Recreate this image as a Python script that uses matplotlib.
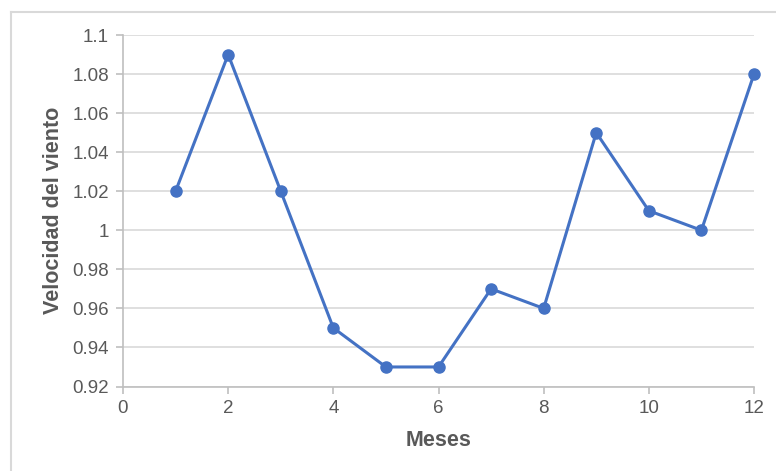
import matplotlib
matplotlib.use("Agg")
import matplotlib.pyplot as plt
from matplotlib.lines import Line2D

meses = [1, 2, 3, 4, 5, 6, 7, 8, 9, 10, 11, 12]
velocidad = [1.02, 1.09, 1.02, 0.95, 0.93, 0.93, 0.97, 0.96, 1.05, 1.01, 1.00, 1.08]
x_ticks = [0, 2, 4, 6, 8, 10, 12]
y_ticks = [0.92, 0.94, 0.96, 0.98, 1.00, 1.02, 1.04, 1.06, 1.08, 1.10]
y_tick_labels = ["0.92", "0.94", "0.96", "0.98", "1", "1.02", "1.04", "1.06", "1.08", "1.1"]

plt.rcParams["font.family"] = ["Liberation Sans", "DejaVu Sans"]
text_color = "#595959"
grid_color = "#d9d9d9"
axis_color = "#bfbfbf"
line_color = "#4472c4"

fig = plt.figure(figsize=(7.76, 4.71), dpi=100)
ax = fig.add_axes([123 / 776, 1 - 386.5 / 471, 631 / 776, 351.5 / 471])

ax.plot(meses, velocidad, color=line_color, linewidth=2.2, marker="o",
        markersize=8, markerfacecolor=line_color, markeredgecolor=line_color,
        zorder=3, clip_on=False)

ax.set_xlim(0, 12)
ax.set_ylim(0.92, 1.10)
ax.set_xticks(x_ticks)
ax.set_yticks(y_ticks)
ax.set_yticklabels(y_tick_labels)

ax.grid(axis="y", color=grid_color, linewidth=1.2)
ax.set_axisbelow(True)
for side in ("top", "right"):
    ax.spines[side].set_visible(False)
for side in ("left", "bottom"):
    ax.spines[side].set_color(axis_color)
    ax.spines[side].set_linewidth(1.2)

ax.tick_params(axis="both", colors=axis_color, labelcolor=text_color,
               labelsize=13.5, length=5, width=1.2, direction="out")
ax.tick_params(axis="y", pad=5)
ax.tick_params(axis="x", pad=5)

ax.set_xlabel("Meses", fontsize=15.5, fontweight="bold", color=text_color, labelpad=9)
ax.set_ylabel("Velocidad del viento", fontsize=15.5, fontweight="bold", color=text_color, labelpad=6)

# chart frame
fig.add_artist(Line2D([11 / 776, 11 / 776], [0, 1 - 12 / 471], transform=fig.transFigure,
                      color="#d9d9d9", linewidth=1.5))
fig.add_artist(Line2D([11 / 776, 1], [1 - 12 / 471, 1 - 12 / 471], transform=fig.transFigure,
                      color="#d9d9d9", linewidth=1.5))

fig.savefig("out.png", dpi=100)
